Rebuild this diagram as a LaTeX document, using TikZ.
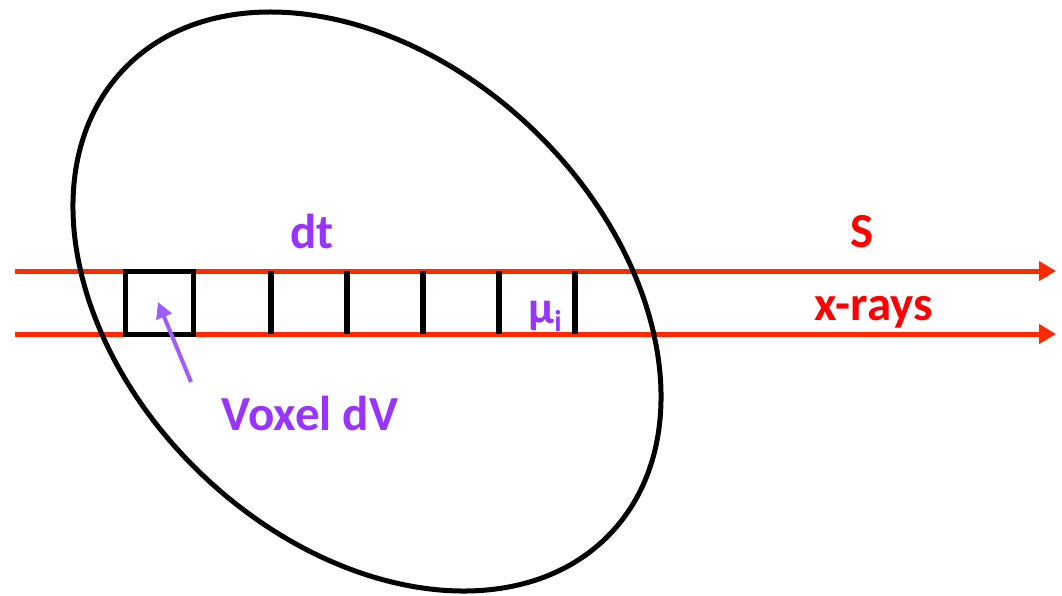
\documentclass[tikz,border=0pt]{standalone}
\usepackage{fontspec}
\setmainfont{Carlito}
\usetikzlibrary{arrows.meta}
\definecolor{ray}{HTML}{FF2A00}
\definecolor{lblred}{HTML}{FF0000}
\definecolor{purp}{HTML}{9933FF}
\definecolor{arrpurp}{HTML}{A15CFF}
\tikzset{
  rayline/.style={draw=ray, line width=5pt, -{Triangle[length=17pt,width=19pt]}},
  blk/.style={draw=black, line width=5.5pt},
  purplbl/.style={text=purp, font=\bfseries\fontsize{49}{56}\selectfont, inner sep=0pt, anchor=base},
  redlbl/.style={text=lblred, font=\bfseries\fontsize{49}{56}\selectfont, inner sep=0pt, anchor=base},
}
\begin{document}
\begin{tikzpicture}[x=1pt,y=-1pt]
\useasboundingbox (0,0) rectangle (1062,595);
% rays
\coordinate (r1s) at (15,271);
\coordinate (r1e) at (1056,271);
\coordinate (r2s) at (15,334);
\coordinate (r2e) at (1056,334);
\draw[rayline] (r1s) -- (r1e);
\draw[rayline] (r2s) -- (r2e);
% object ellipse
\draw[blk, line width=5pt, rotate around={-43.65:(367,301.5)}] (367,301.5) ellipse [x radius=336.3pt, y radius=239.1pt];
% voxel
\node[blk, line width=5pt, minimum width=68pt, minimum height=63pt, inner sep=0pt] (voxel) at (159,302.5) {};
\foreach \xx/\nm in {271/b1,347/b2,423/b3,499/b4,575/b5}{
  \coordinate (\nm t) at (\xx,271);
  \coordinate (\nm b) at (\xx,334);
  \draw[blk] (\nm t) -- (\nm b);
}
% labels
\node[purplbl] (dt) at (312,248) {dt};
\node[purplbl, font=\bfseries\fontsize{46}{52}\selectfont] (mu) at (545,323) {μ\raisebox{-8pt}{\fontsize{30}{34}\selectfont i}};
\node[redlbl] (S) at (862,247) {S};
\node[redlbl] (xr) at (874,320) {x-rays};
\node[purplbl] (vox) at (310,430) {Voxel dV};
% pointer
\coordinate (ptail) at (191,382);
\coordinate (ptip) at (158,302);
\draw[draw=arrpurp, line width=4pt, -{Triangle[length=16pt,width=16pt]}] (ptail) -- (ptip);
\end{tikzpicture}
\end{document}
